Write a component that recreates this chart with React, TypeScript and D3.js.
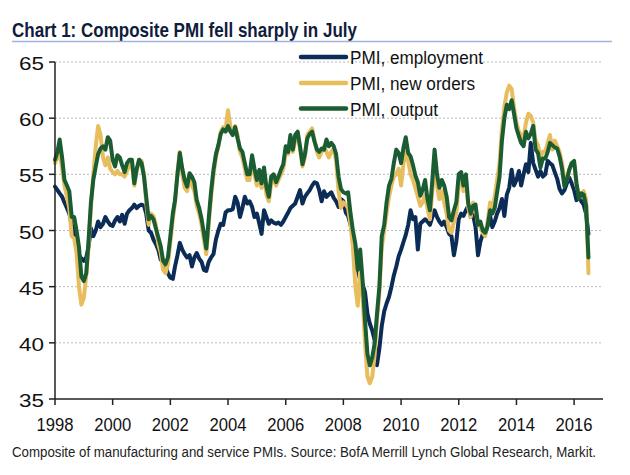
import React from "react";
import * as d3 from "d3";

// Monthly data, Jan 1998 - Jul 2016
const employment = [
  53.9, 53.6, 53.3, 53.0, 52.5, 52.0, 51.5, 50.5, 50.0, 48.8, 47.8, 47.5,
  47.3, 47.6, 48.5, 50.2, 49.5, 50.0, 50.8, 50.3, 50.6, 51.2, 50.8, 50.5,
  50.4, 50.9, 51.2, 50.8, 51.4, 50.6, 51.5, 51.8, 52.0, 52.3, 52.0, 52.2,
  52.3, 52.2, 51.5, 50.0, 49.8, 49.2, 48.8, 48.3, 47.4, 47.3, 46.8, 46.2,
  45.8, 45.7, 46.8, 47.8, 48.9, 48.3, 47.9, 47.6, 47.8, 46.8, 47.6, 48.0,
  47.5, 47.2, 46.5, 46.4, 47.2, 47.6, 47.9, 49.2, 50.0, 50.6, 50.5, 51.6,
  51.8, 51.8, 51.9, 53.0, 52.5, 51.2, 52.0, 53.0, 52.4, 52.6, 52.1, 51.2,
  51.5, 50.6, 49.7, 51.8, 51.2, 50.6, 50.9, 50.7, 50.6, 50.7, 50.5, 50.8,
  51.2, 51.6, 52.0, 52.2, 52.4, 53.0, 53.6, 52.4, 53.0, 53.3, 53.6, 54.0,
  54.3, 54.2, 53.6, 52.6, 53.5, 53.0, 53.2, 53.4, 52.9, 52.6, 52.1, 52.8,
  52.6, 51.6, 51.3, 50.5, 49.5, 48.5, 46.5, 45.6, 45.2, 44.5, 42.6, 41.7,
  41.1, 40.2, 38.0, 39.5, 41.5, 42.8, 43.5, 44.1, 45.0, 46.0, 46.8, 47.7,
  48.3, 49.0, 49.6, 50.5, 51.8, 51.0, 51.2, 48.3, 50.6, 50.8, 51.0, 50.8,
  50.5, 51.2, 51.8, 51.2, 50.8, 50.5, 50.8, 50.3, 49.7, 49.5, 47.8, 49.0,
  51.0, 51.5, 51.3, 51.8, 52.2, 51.2, 51.4, 50.3, 47.8, 49.0, 49.7, 49.7,
  50.5, 51.3, 50.3, 50.8, 51.5, 52.0, 52.8, 51.3, 53.2, 53.8, 55.4, 54.0,
  54.5, 55.3, 54.0, 55.0, 55.9, 55.2, 57.8, 56.0, 55.4, 54.8, 55.3, 54.8,
  55.0, 56.2, 56.0, 55.8, 55.2, 54.6, 53.7, 53.3, 53.6, 54.2, 54.7, 54.2,
  53.6, 52.7, 53.0, 52.6, 52.3, 51.5, 49.7,
];

const newOrders = [
  56.0, 56.5, 57.0, 55.5, 54.0, 53.0, 52.0, 49.5, 49.3, 48.0, 45.0, 43.4,
  44.0, 46.0, 48.5, 52.0, 55.0, 57.5, 59.3, 58.5, 56.5, 55.8, 56.5, 55.5,
  55.2, 55.0, 55.3, 55.0, 55.0, 54.8, 55.3, 55.8, 56.0, 54.0, 55.3, 56.3,
  56.2, 55.0, 52.5, 50.5, 51.5, 51.3, 50.5, 48.8, 48.0, 46.5, 46.2, 47.0,
  49.0, 51.0, 52.5, 55.2, 57.0, 55.0, 53.8, 53.5, 54.5, 54.0, 53.5, 52.2,
  51.5, 50.5, 49.2, 47.9, 50.5, 53.0, 55.0, 56.5, 57.5, 58.8, 59.2, 59.0,
  60.7, 59.2, 58.8, 59.3, 58.5, 57.0, 56.5, 55.5, 54.5, 54.5, 56.3, 55.0,
  54.0, 54.8, 53.8, 55.0, 53.2, 52.6, 54.2, 54.6, 54.0, 54.5, 55.0, 55.5,
  57.0, 56.8, 58.0, 57.0, 58.0, 58.5, 57.3, 55.7, 56.5, 58.5, 58.8, 59.1,
  58.0, 57.0, 56.5, 57.0, 57.5, 57.0, 56.5, 57.0, 57.3, 56.2, 53.5, 52.0,
  52.5, 52.3, 52.0, 50.5, 48.5, 45.0, 43.3, 46.5, 44.0, 40.0, 37.0, 36.4,
  37.0, 39.0, 42.0, 44.5, 48.5, 50.0, 51.5, 53.0, 54.0, 54.8, 55.0, 55.5,
  54.0, 56.0, 57.0, 56.2, 55.0, 54.5, 53.8, 53.0, 52.2, 52.5, 53.2, 52.0,
  51.0, 53.5, 55.5, 54.0, 52.8, 53.5, 52.5, 51.5, 50.0, 49.8, 50.8, 51.5,
  54.0, 54.8, 53.5, 54.5, 52.0, 51.2, 52.5, 52.0, 50.5, 50.3, 49.8, 49.5,
  50.8, 52.5, 52.0, 53.0, 54.5, 56.0, 59.0, 61.0, 62.3, 62.9, 62.6, 61.0,
  59.6, 58.8, 58.5, 58.2, 59.6, 60.4, 60.2, 59.6, 58.0, 57.6, 56.5, 57.0,
  57.0, 57.8, 58.5, 57.2, 58.0, 57.5, 57.0, 56.0, 54.5, 54.5, 55.5, 56.0,
  56.0, 54.0, 53.3, 53.0, 53.5, 52.8, 46.2,
];

const output = [
  56.3, 57.0, 58.1, 56.5, 54.5, 54.0, 53.5, 51.2, 51.2, 50.0, 48.5, 45.9,
  45.5, 46.2, 49.0, 52.5, 54.5, 55.7, 56.8, 57.3, 57.5, 57.2, 58.3, 58.0,
  56.3, 55.7, 56.7, 56.5, 55.8, 55.2, 56.0, 56.3, 56.3, 54.2, 55.5, 56.3,
  56.0, 54.8, 53.0, 51.0, 51.3, 51.0, 50.2, 49.4, 48.6, 47.3, 47.0, 47.6,
  49.5, 51.5, 52.7, 55.0, 56.9, 55.5, 54.5, 53.9, 55.1, 54.8, 54.3, 52.7,
  52.0, 51.0, 49.8, 48.4, 51.0, 53.5, 55.4, 56.8, 57.6, 58.6, 59.0, 58.8,
  59.3, 58.8, 58.5, 59.2, 58.2, 57.3, 57.0, 56.0, 55.0, 55.0, 56.7, 55.5,
  54.5, 55.4, 54.2, 55.6, 53.9, 53.0, 54.8, 55.0, 54.3, 54.8, 55.4, 55.9,
  57.5, 57.0, 58.5, 57.2, 58.5, 58.8, 57.5, 55.9, 56.8, 58.2, 58.6, 58.8,
  57.9, 57.2, 57.0, 57.3, 57.2, 58.1, 57.5, 57.8, 57.5, 56.8, 54.8, 53.7,
  53.4, 53.3, 53.4, 51.5, 50.0, 48.8, 46.5, 48.3, 45.5, 42.0, 39.0, 38.0,
  38.7, 40.0, 42.5, 45.0, 49.5, 50.5, 52.5, 54.0, 54.6, 56.0, 57.2, 56.9,
  56.0, 57.4, 58.3, 56.9, 56.6, 55.8, 54.9, 54.3, 53.1, 53.6, 54.5, 52.8,
  51.8, 54.5, 57.2, 55.0, 53.8, 54.5, 54.0, 53.0, 51.2, 50.9, 51.8, 52.5,
  55.0, 55.2, 54.0, 55.0, 52.4, 51.5, 52.2, 52.3, 50.5, 50.8, 50.0, 49.8,
  50.4, 51.8, 51.5, 52.0, 53.4, 54.8, 58.0, 60.0, 61.2, 60.8, 61.6, 60.4,
  59.1, 58.4, 57.8, 57.5, 58.8, 58.2, 58.6, 59.3, 57.2, 56.9, 55.6, 56.4,
  56.4, 57.0, 57.8, 57.6, 57.4, 57.3, 56.6, 55.5, 53.9, 54.5, 55.4, 56.0,
  56.2, 54.2, 52.8, 53.3, 53.2, 52.2, 47.6,
];

const seriesNames = ["PMI, employment", "PMI, new orders", "PMI, output"];
const seriesColors = ["#0b2c56", "#e8bd5e", "#1b5d33"];
const yTicks = [35, 40, 45, 50, 55, 60, 65];
const xTickYears = [1998, 2000, 2002, 2004, 2006, 2008, 2010, 2012, 2014, 2016];

const title = "Chart 1: Composite PMI fell sharply in July";
const footnote =
  "Composite of manufacturing and service PMIs. Source: BofA Merrill Lynch Global Research, Markit.";

export default function App() {
  const W = 630;
  const H = 475;
  const left = 55;
  const right = 603;
  const top = 62;
  const bottom = 399;

  const x = d3
    .scaleTime()
    .domain([new Date(1998, 0, 1), new Date(2017, 0, 1)])
    .range([left, right]);
  const y = d3.scaleLinear().domain([35, 65]).range([bottom, top]);

  const dateOf = (i: number) => new Date(1998, i, 1);
  const line = d3
    .line<number>()
    .x((_, i) => x(dateOf(i)))
    .y((d) => y(d))
    .curve(d3.curveLinear);

  const allSeries = [employment, newOrders, output];
  const font = "'Liberation Sans', Arial, sans-serif";

  const legendY = [57, 83, 108.5];
  const legendLen = [133, 125, 88];

  return (
    <svg
      width={W}
      height={H}
      style={{ position: "absolute", left: 0, top: 0, background: "#fff" }}
    >
      <rect x={0} y={0} width={W} height={H} fill="#fff" />
      <text
        x={12}
        y={37}
        fontFamily={font}
        fontWeight="bold"
        fontSize={21}
        fill="#101c3c"
        textLength={345}
        lengthAdjust="spacingAndGlyphs"
      >
        {title}
      </text>
      <line x1={12} x2={612} y1={41.5} y2={41.5} stroke="#9fb4da" strokeWidth={1.5} />

      {/* gridlines */}
      {yTicks
        .filter((t) => t > 35)
        .map((t) => (
          <line
            key={"g" + t}
            x1={left}
            x2={right}
            y1={y(t)}
            y2={y(t)}
            stroke="#b8b8b8"
            strokeWidth={1}
            strokeDasharray="2,2"
          />
        ))}

      {/* series */}
      {allSeries.map((s, k) => (
        <path
          key={"s" + k}
          d={line(s) || ""}
          fill="none"
          stroke={seriesColors[k]}
          strokeWidth={4}
          strokeLinejoin="round"
          strokeLinecap="round"
        />
      ))}

      {/* axes */}
      <line x1={left} x2={left} y1={top} y2={bottom} stroke="#222" strokeWidth={1.5} />
      <line x1={left} x2={right} y1={bottom} y2={bottom} stroke="#222" strokeWidth={1.5} />
      {yTicks.map((t) => (
        <g key={"y" + t}>
          <line x1={left - 6} x2={left} y1={y(t)} y2={y(t)} stroke="#222" strokeWidth={1.5} />
          <text
            x={44}
            y={y(t) + 8}
            textAnchor="end"
            fontFamily={font}
            fontSize={19}
            fill="#111"
            textLength={25}
            lengthAdjust="spacingAndGlyphs"
          >
            {t}
          </text>
        </g>
      ))}
      {xTickYears.map((yr) => {
        const xx = x(new Date(yr, 0, 1));
        return (
          <g key={"x" + yr}>
            <line x1={xx} x2={xx} y1={bottom} y2={bottom + 6} stroke="#222" strokeWidth={1.5} />
            <text
              x={xx}
              y={431}
              textAnchor="middle"
              fontFamily={font}
              fontSize={18}
              fill="#111"
              textLength={37}
              lengthAdjust="spacingAndGlyphs"
            >
              {yr}
            </text>
          </g>
        );
      })}

      {/* legend */}
      {seriesNames.map((n, k) => (
        <g key={"l" + k}>
          <line
            x1={301}
            x2={346}
            y1={legendY[k]}
            y2={legendY[k]}
            stroke={seriesColors[k]}
            strokeWidth={4.5}
            strokeLinecap="round"
          />
          <text
            x={350}
            y={legendY[k] + 7}
            fontFamily={font}
            fontSize={18}
            fill="#111"
            textLength={legendLen[k]}
            lengthAdjust="spacingAndGlyphs"
          >
            {n}
          </text>
        </g>
      ))}

      <text
        x={12}
        y={457}
        fontFamily={font}
        fontSize={14}
        fill="#222"
        textLength={584}
        lengthAdjust="spacingAndGlyphs"
      >
        {footnote}
      </text>
    </svg>
  );
}
